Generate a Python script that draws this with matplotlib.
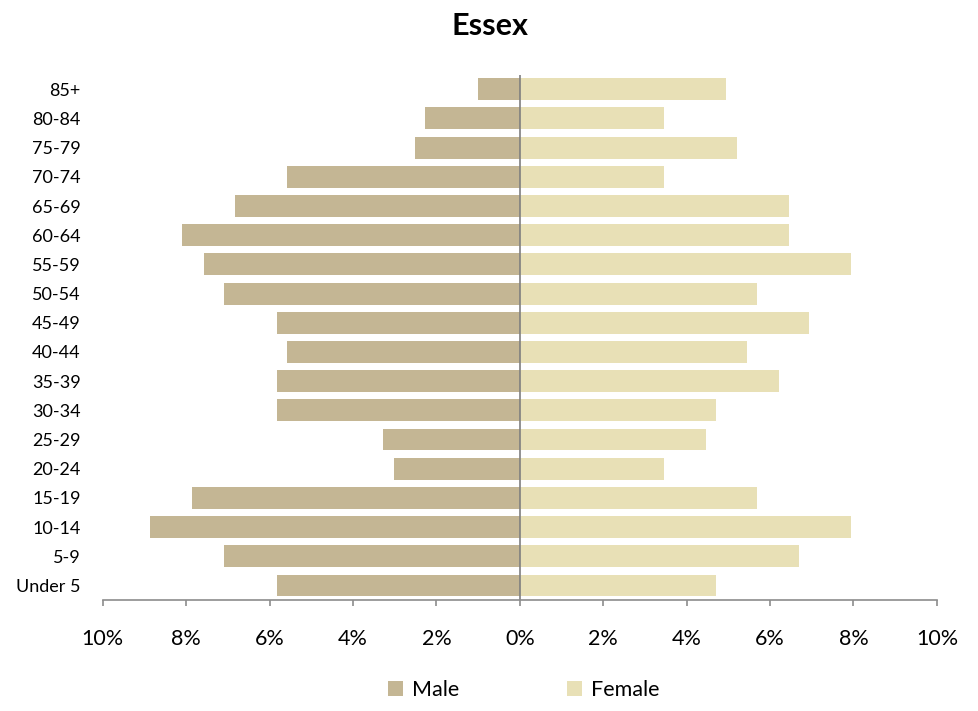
import matplotlib.pyplot as plt
import numpy as np

# Essex population pyramid, % of population by age band
ages = ['Under 5', '5-9', '10-14', '15-19', '20-24', '25-29', '30-34', '35-39',
        '40-44', '45-49', '50-54', '55-59', '60-64', '65-69', '70-74', '75-79',
        '80-84', '85+']
male = [5.83, 7.1, 8.87, 7.87, 3.02, 3.29, 5.83, 5.83,
        5.59, 5.83, 7.1, 7.58, 8.1, 6.83, 5.59, 2.52, 2.28, 1.0]
female = [4.7, 6.69, 7.94, 5.68, 3.45, 4.46, 4.7, 6.21,
          5.44, 6.93, 5.68, 7.94, 6.45, 6.45, 3.45, 5.2, 3.45, 4.94]
xticks = [-10, -8, -6, -4, -2, 0, 2, 4, 6, 8, 10]

plt.rcParams['font.family'] = ['Lato', 'DejaVu Sans']

fig = plt.figure(figsize=(9.79, 7.11), dpi=100)
ax = fig.add_axes([0.105, 0.156, 0.852, 0.739])

y = np.arange(len(ages))
ax.barh(y, -np.array(male), height=0.75, color='#C4B694', label='Male')
ax.barh(y, female, height=0.75, color='#E8E0B6', label='Female')
ax.axvline(0, color='#7f7f7f', lw=1.2)

ax.set_xlim(-10, 10)
ax.set_ylim(-0.5, len(ages) - 0.5)
ax.set_xticks(xticks)
ax.set_xticklabels([f'{abs(v)}%' for v in xticks], fontsize=15.5)
ax.set_yticks(y)
ax.set_yticklabels(ages, fontsize=13)

for s in ['top', 'right', 'left']:
    ax.spines[s].set_visible(False)
ax.spines['bottom'].set_color('#8c8c8c')
ax.spines['bottom'].set_linewidth(1.2)
ax.tick_params(axis='x', direction='out', length=4.5, width=1.2, color='#8c8c8c', pad=16)
ax.tick_params(axis='y', length=0, pad=16)

fig.suptitle('Essex', fontsize=22, fontweight='bold', y=0.983)
fig.legend(loc='lower center', bbox_to_anchor=(0.535, -0.012), ncol=2, frameon=False,
           fontsize=15.5, handlelength=0.7, handleheight=0.7, handletextpad=0.4,
           columnspacing=5.0)

fig.savefig('out.png', dpi=100)
